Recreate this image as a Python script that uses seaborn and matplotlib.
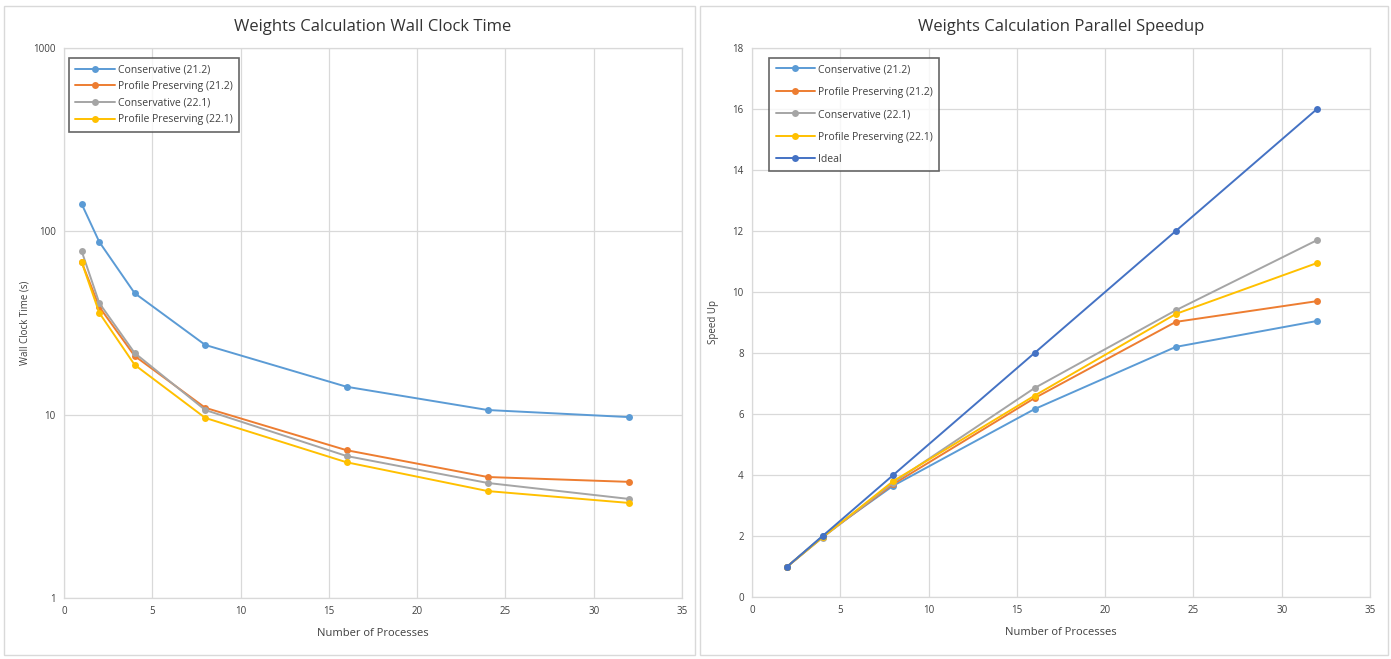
import matplotlib
matplotlib.use("Agg")
import matplotlib.pyplot as plt
import seaborn as sns
import pandas as pd
from matplotlib.patches import Rectangle

# ---------------- data ----------------
procs_time = [1, 2, 4, 8, 16, 24, 32]
time_cons_212 = [141, 87.5, 46, 24, 14.2, 10.6, 9.7]
time_prof_212 = [68, 38.7, 20.9, 10.9, 6.4, 4.57, 4.3]
time_cons_221 = [78, 40.6, 21.7, 10.6, 5.95, 4.24, 3.47]
time_prof_221 = [68, 35.9, 18.7, 9.6, 5.5, 3.83, 3.3]

procs_speed = [2, 4, 8, 16, 24, 32]
speed_cons_212 = [1, 2.0, 3.65, 6.16, 8.2, 9.05]
speed_prof_212 = [1, 1.97, 3.7, 6.52, 9.02, 9.7]
speed_cons_221 = [1, 1.95, 3.75, 6.85, 9.4, 11.7]
speed_prof_221 = [1, 1.96, 3.8, 6.6, 9.28, 10.95]
speed_ideal = [1, 2, 4, 8, 12, 16]

labels = ["Conservative (21.2)", "Profile Preserving (21.2)",
          "Conservative (22.1)", "Profile Preserving (22.1)", "Ideal"]
colors = ["#5B9BD5", "#ED7D31", "#A5A5A5", "#FFC000", "#4472C4"]

x_ticks = [0, 5, 10, 15, 20, 25, 30, 35]
time_ticks = [1, 10, 100, 1000]
speed_ticks = [0, 2, 4, 6, 8, 10, 12, 14, 16, 18]

# ---------------- style ----------------
sns.set_theme(style="white")
plt.rcParams["font.family"] = ["Open Sans", "DejaVu Sans"]

W, H = 1391, 659
fig = plt.figure(figsize=(W / 100, H / 100), dpi=100)

def ax_rect(x0, y0, x1, y1):
    return [x0 / W, 1 - y1 / H, (x1 - x0) / W, (y1 - y0) / H]

ax1 = fig.add_axes(ax_rect(64, 48, 682, 598))
ax2 = fig.add_axes(ax_rect(752, 48, 1370, 597))

# panel borders
for (x0, x1) in [(4, 695), (700, 1388)]:
    fig.patches.append(Rectangle((x0 / W, 4 / H), (x1 - x0) / W, (H - 10) / H,
                                 transform=fig.transFigure, fill=False,
                                 edgecolor="#D9D9D9", linewidth=1.0))

grid_c = "#D9D9D9"
text_c = "#404040"

def style_axes(ax):
    ax.grid(True, color=grid_c, linewidth=0.9)
    ax.set_axisbelow(True)
    for s in ax.spines.values():
        s.set_color(grid_c)
        s.set_linewidth(0.9)
    ax.tick_params(axis="both", labelsize=7, colors=text_c, length=0, pad=6)

# ---------------- left: wall clock time ----------------
time_series = [time_cons_212, time_prof_212, time_cons_221, time_prof_221]
for vals, lab, col in zip(time_series, labels[:4], colors[:4]):
    df = pd.DataFrame({"procs": procs_time, "val": vals})
    sns.lineplot(data=df, x="procs", y="val", ax=ax1, color=col, marker="o",
                 markersize=5, markeredgewidth=0, linewidth=1.4, label=lab)

ax1.set_yscale("log")
ax1.set_ylim(1, 1000)
ax1.set_xlim(0, 35)
ax1.set_xticks(x_ticks)
ax1.set_yticks(time_ticks)
ax1.set_yticklabels([str(t) for t in time_ticks])
ax1.minorticks_off()
style_axes(ax1)
ax1.set_xlabel("Number of Processes", fontsize=8, color=text_c, labelpad=8)
ax1.set_ylabel("Wall Clock Time (s)", fontsize=7, color=text_c, labelpad=2)
ax1.set_title("Weights Calculation Wall Clock Time", fontsize=12, color="#333333", pad=12)

# ---------------- right: speedup ----------------
speed_series = [speed_cons_212, speed_prof_212, speed_cons_221, speed_prof_221, speed_ideal]
for vals, lab, col in zip(speed_series, labels, colors):
    df = pd.DataFrame({"procs": procs_speed, "val": vals})
    sns.lineplot(data=df, x="procs", y="val", ax=ax2, color=col, marker="o",
                 markersize=5, markeredgewidth=0, linewidth=1.4, label=lab)

ax2.set_ylim(0, 18)
ax2.set_xlim(0, 35)
ax2.set_xticks(x_ticks)
ax2.set_yticks(speed_ticks)
style_axes(ax2)
ax2.set_xlabel("Number of Processes", fontsize=8, color=text_c, labelpad=8)
ax2.set_ylabel("Speed Up", fontsize=7, color=text_c, labelpad=10)
ax2.set_title("Weights Calculation Parallel Speedup", fontsize=12, color="#333333", pad=12)

for ax, spacing, anchor in ((ax1, 0.55, (0.008, 0.982)), (ax2, 1.1, (0.028, 0.982))):
    leg = ax.legend(loc="upper left", fontsize=7.5, frameon=True, fancybox=False,
                    borderpad=0.6, labelspacing=spacing, handlelength=3.8,
                    handletextpad=0.3, borderaxespad=0.0, bbox_to_anchor=anchor)
    leg.get_frame().set_edgecolor("#404040")
    leg.get_frame().set_linewidth(1.2)
    for t in leg.get_texts():
        t.set_color(text_c)

fig.savefig("out.png", dpi=100, facecolor="white")
